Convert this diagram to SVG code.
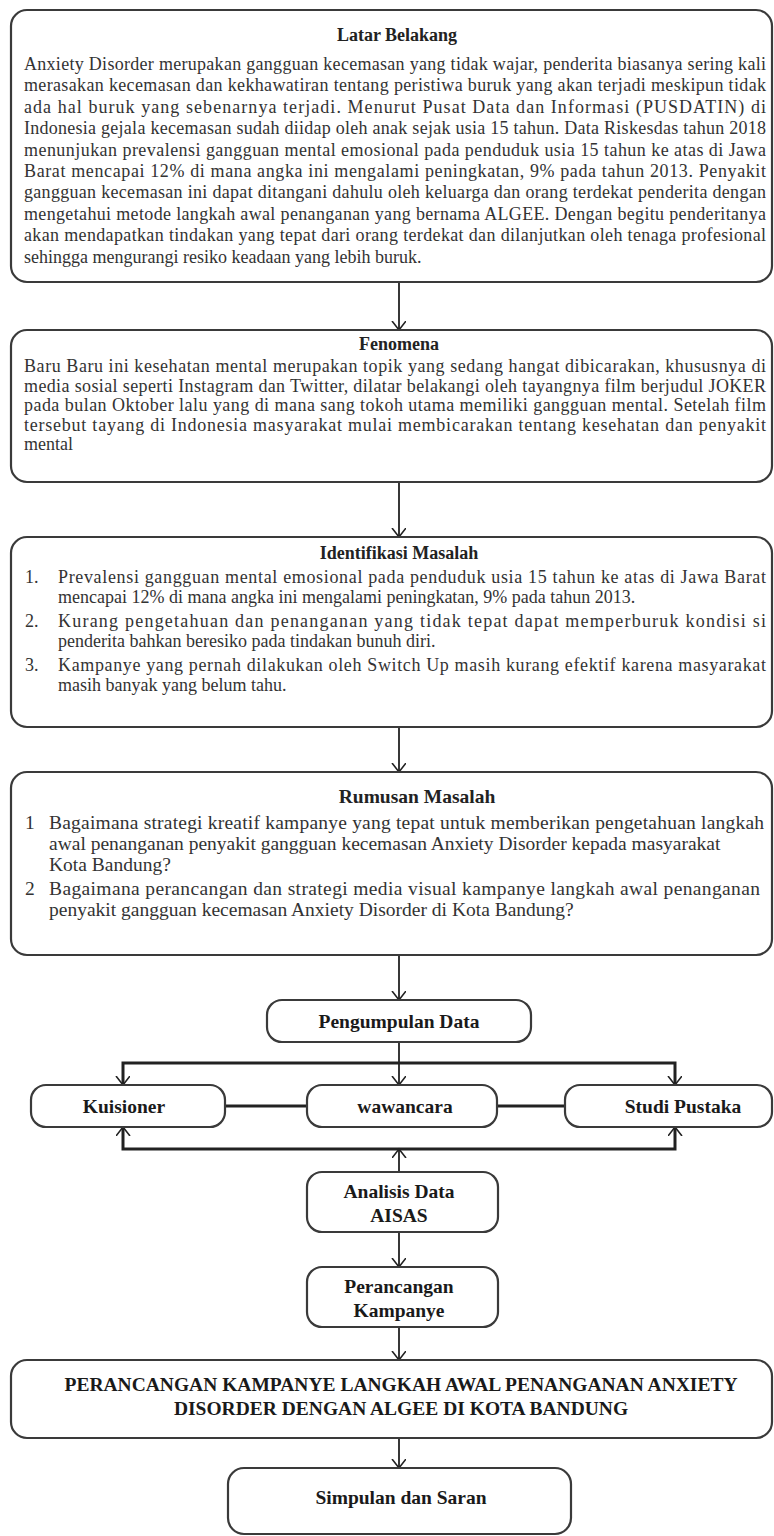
<svg xmlns="http://www.w3.org/2000/svg" width="774" height="1536" viewBox="0 0 774 1536">
<defs>
<marker id="arr" markerWidth="20" markerHeight="20" refX="9" refY="7" orient="auto" markerUnits="userSpaceOnUse">
<path d="M0,0 L9,7 L0,14" fill="none" stroke="#222" stroke-width="1.6"/>
</marker>
<style>
.box{fill:#fff;stroke:#3a3a3a;stroke-width:2.2}
.t{font-family:"Liberation Serif","Times New Roman",serif;fill:#333}
.body{font-size:18px}
.rm{font-size:19.5px}
.ttl{font-size:18px;font-weight:bold;text-anchor:middle;fill:#222}
.lbl{font-size:19.5px;font-weight:bold;text-anchor:middle;fill:#1a1a1a}
.conn{stroke:#222;stroke-width:1.8;fill:none}
.bar{stroke:#222;stroke-width:3;fill:none}
</style>
</defs>
<rect width="774" height="1536" fill="#fff"/>

<g id="connectors">
<line class="conn" x1="399" y1="282" x2="399" y2="330" marker-end="url(#arr)"/>
<line class="conn" x1="399" y1="482" x2="399" y2="537" marker-end="url(#arr)"/>
<line class="conn" x1="399" y1="727" x2="399" y2="772" marker-end="url(#arr)"/>
<line class="conn" x1="399" y1="955" x2="399" y2="1000" marker-end="url(#arr)"/>
<line class="conn" x1="399" y1="1042" x2="399" y2="1063"/>
<polyline class="bar" points="123,1085 123,1063 675,1063 675,1085"/>
<line class="conn" x1="123" y1="1063" x2="123" y2="1085" marker-end="url(#arr)"/>
<line class="conn" x1="399" y1="1063" x2="399" y2="1085" marker-end="url(#arr)"/>
<line class="conn" x1="675" y1="1063" x2="675" y2="1085" marker-end="url(#arr)"/>
<line class="bar" x1="225" y1="1106" x2="307" y2="1106"/>
<line class="bar" x1="497" y1="1106" x2="565" y2="1106"/>
<polyline class="bar" points="123,1127 123,1149 675,1149 675,1127"/>
<line class="conn" x1="123" y1="1149" x2="123" y2="1127" marker-end="url(#arr)"/>
<line class="conn" x1="675" y1="1149" x2="675" y2="1127" marker-end="url(#arr)"/>
<line class="conn" x1="399" y1="1172" x2="399" y2="1149" marker-end="url(#arr)"/>
<line class="conn" x1="399" y1="1232" x2="399" y2="1267" marker-end="url(#arr)"/>
<line class="conn" x1="399" y1="1327" x2="399" y2="1360" marker-end="url(#arr)"/>
<line class="conn" x1="399" y1="1438" x2="399" y2="1468" marker-end="url(#arr)"/>
</g>

<g id="latar-belakang">
<rect class="box" x="11" y="10" width="761" height="272" rx="16"/>
<text class="t ttl" x="397" y="41">Latar Belakang</text>
<g class="t body">
<text x="24" y="70" textLength="742" lengthAdjust="spacing">Anxiety Disorder merupakan gangguan kecemasan yang tidak wajar, penderita biasanya sering kali</text>
<text x="24" y="91.4" textLength="742" lengthAdjust="spacing">merasakan kecemasan dan kekhawatiran tentang peristiwa buruk yang akan terjadi meskipun tidak</text>
<text x="24" y="112.8" textLength="742" lengthAdjust="spacing">ada hal buruk yang sebenarnya terjadi. Menurut Pusat Data dan Informasi (PUSDATIN) di</text>
<text x="24" y="134.2" textLength="742" lengthAdjust="spacing">Indonesia gejala kecemasan sudah diidap oleh anak sejak usia 15 tahun. Data Riskesdas tahun 2018</text>
<text x="24" y="155.6" textLength="742" lengthAdjust="spacing">menunjukan prevalensi gangguan mental emosional pada penduduk usia 15 tahun ke atas di Jawa</text>
<text x="24" y="177" textLength="742" lengthAdjust="spacing">Barat mencapai 12% di mana angka ini mengalami peningkatan, 9% pada tahun 2013. Penyakit</text>
<text x="24" y="198.4" textLength="742" lengthAdjust="spacing">gangguan kecemasan ini dapat ditangani dahulu oleh keluarga dan orang terdekat penderita dengan</text>
<text x="24" y="219.8" textLength="742" lengthAdjust="spacing">mengetahui metode langkah awal penanganan yang bernama ALGEE. Dengan begitu penderitanya</text>
<text x="24" y="241.2" textLength="742" lengthAdjust="spacing">akan mendapatkan tindakan yang tepat dari orang terdekat dan dilanjutkan oleh tenaga profesional</text>
<text x="24" y="262.6">sehingga mengurangi resiko keadaan yang lebih buruk.</text>
</g>
</g>

<g id="fenomena">
<rect class="box" x="11" y="330" width="761" height="152" rx="16"/>
<text class="t ttl" x="399" y="350">Fenomena</text>
<g class="t body">
<text x="24" y="372" textLength="742" lengthAdjust="spacing">Baru Baru ini kesehatan mental merupakan topik yang sedang hangat dibicarakan, khususnya di</text>
<text x="24" y="391.5" textLength="742" lengthAdjust="spacing">media sosial seperti Instagram dan Twitter, dilatar belakangi oleh tayangnya film berjudul JOKER</text>
<text x="24" y="411" textLength="742" lengthAdjust="spacing">pada bulan Oktober lalu yang di mana sang tokoh utama memiliki gangguan mental. Setelah film</text>
<text x="24" y="430.5" textLength="742" lengthAdjust="spacing">tersebut tayang di Indonesia masyarakat mulai membicarakan tentang kesehatan dan penyakit</text>
<text x="24" y="450">mental</text>
</g>
</g>

<g id="identifikasi-masalah">
<rect class="box" x="11" y="537" width="761" height="190" rx="16"/>
<text class="t ttl" x="399" y="559">Identifikasi Masalah</text>
<g class="t body">
<text x="25" y="583">1.</text>
<text x="58" y="583" textLength="708" lengthAdjust="spacing">Prevalensi gangguan mental emosional pada penduduk usia 15 tahun ke atas di Jawa Barat</text>
<text x="58" y="602.5">mencapai 12% di mana angka ini mengalami peningkatan, 9% pada tahun 2013.</text>
<text x="25" y="627">2.</text>
<text x="58" y="627" textLength="708" lengthAdjust="spacing">Kurang pengetahuan dan penanganan yang tidak tepat dapat memperburuk kondisi si</text>
<text x="58" y="646.5">penderita bahkan beresiko pada tindakan bunuh diri.</text>
<text x="25" y="671">3.</text>
<text x="58" y="671" textLength="708" lengthAdjust="spacing">Kampanye yang pernah dilakukan oleh Switch Up masih kurang efektif karena masyarakat</text>
<text x="58" y="690.5">masih banyak yang belum tahu.</text>
</g>
</g>

<g id="rumusan-masalah">
<rect class="box" x="11" y="772" width="761" height="183" rx="16"/>
<text class="t ttl" x="417" y="803" style="font-size:19.5px">Rumusan Masalah</text>
<g class="t rm">
<text x="25" y="829">1</text>
<text x="49" y="829" textLength="715" lengthAdjust="spacing">Bagaimana strategi kreatif kampanye yang tepat untuk memberikan pengetahuan langkah</text>
<text x="49" y="850">awal penanganan penyakit gangguan kecemasan Anxiety Disorder kepada masyarakat</text>
<text x="49" y="871">Kota Bandung?</text>
<text x="25" y="895">2</text>
<text x="49" y="895" textLength="711" lengthAdjust="spacing">Bagaimana perancangan dan strategi media visual kampanye langkah awal penanganan</text>
<text x="49" y="916">penyakit gangguan kecemasan Anxiety Disorder di Kota Bandung?</text>
</g>
</g>

<g id="pengumpulan-data">
<rect class="box" x="267" y="1000" width="264" height="42" rx="15"/>
<text class="t lbl" x="399" y="1028">Pengumpulan Data</text>
</g>
<g id="kuisioner">
<rect class="box" x="31" y="1085" width="194" height="42" rx="15"/>
<text class="t lbl" x="124" y="1113">Kuisioner</text>
</g>
<g id="wawancara">
<rect class="box" x="307" y="1085" width="190" height="42" rx="15"/>
<text class="t lbl" x="405" y="1113">wawancara</text>
</g>
<g id="studi-pustaka">
<rect class="box" x="565" y="1085" width="207" height="42" rx="15"/>
<text class="t lbl" x="683" y="1113">Studi Pustaka</text>
</g>
<g id="analisis-data">
<rect class="box" x="307" y="1172" width="191" height="60" rx="15"/>
<text class="t lbl" x="399" y="1198">Analisis Data</text>
<text class="t lbl" x="399" y="1222">AISAS</text>
</g>
<g id="perancangan-kampanye">
<rect class="box" x="307" y="1267" width="191" height="60" rx="15"/>
<text class="t lbl" x="399" y="1293">Perancangan</text>
<text class="t lbl" x="399" y="1317">Kampanye</text>
</g>
<g id="judul">
<rect class="box" x="11" y="1360" width="761" height="78" rx="16"/>
<text class="t lbl" x="401" y="1391">PERANCANGAN KAMPANYE LANGKAH AWAL PENANGANAN ANXIETY</text>
<text class="t lbl" x="401" y="1415">DISORDER DENGAN ALGEE DI KOTA BANDUNG</text>
</g>
<g id="simpulan">
<rect class="box" x="228" y="1468" width="343" height="66" rx="16"/>
<text class="t lbl" x="401" y="1504">Simpulan dan Saran</text>
</g>
</svg>
